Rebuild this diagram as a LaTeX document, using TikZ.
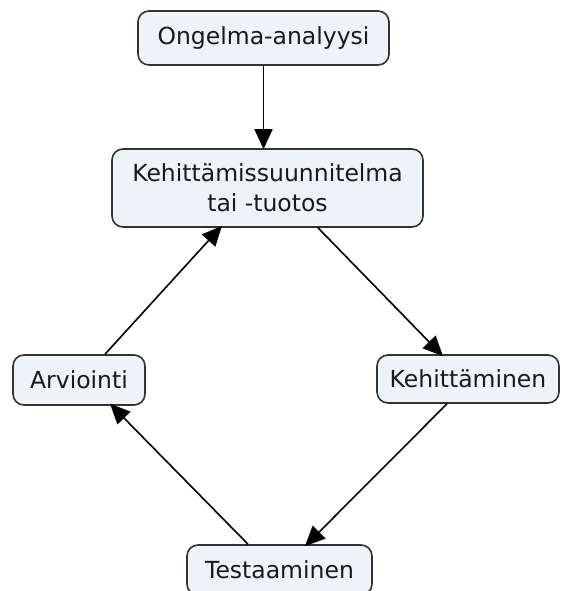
\documentclass[tikz,border=0pt]{standalone}
\usepackage{fontspec}
\setmainfont{DejaVu Sans}
\usetikzlibrary{arrows.meta}
\definecolor{boxfill}{HTML}{EEF3F7}
\definecolor{boxline}{HTML}{333333}
\definecolor{txt}{HTML}{1A1A1A}
\begin{document}
\begin{tikzpicture}[x=1pt,y=-1pt,
  concept/.style={draw=boxline, line width=1.6pt, fill=boxfill, rounded corners=11pt,
    inner sep=0pt, text=txt, font=\fontsize{23.5}{30}\selectfont, align=center},
  link/.style={line width=1.6pt, draw=black, -{Triangle[length=20pt,width=18pt]}}]
\useasboundingbox (0,0) rectangle (561,591);
\node[concept, minimum width=251pt, minimum height=54pt] (on) at (263.5,38) {Ongelma-analyysi};
\node[concept, minimum width=311pt, minimum height=78pt] (ke) at (267.5,188) {Kehittämissuunnitelma\\tai -tuotos};
\node[concept, minimum width=132pt, minimum height=50pt] (ar) at (79,380) {Arviointi};
\node[concept, minimum width=182pt, minimum height=48pt] (kh) at (468,379) {Kehittäminen};
\node[concept, minimum width=185pt, minimum height=50pt] (te) at (279.5,570) {Testaaminen};
\draw[link] (on.south) -- ([yshift=-1pt]ke.north -| on.south);
\draw[link] ([xshift=50.5pt]ke.south) -- ([xshift=-25pt,yshift=-2pt]kh.north);
\draw[link] ([xshift=-21pt]kh.south) -- ([xshift=25.5pt,yshift=-2pt]te.north);
\draw[link] ([xshift=-31.5pt]te.north) -- ([xshift=31pt,yshift=2pt]ar.south);
\draw[link] ([xshift=26pt]ar.north) -- ([xshift=-45.5pt,yshift=2pt]ke.south);
\end{tikzpicture}
\end{document}
